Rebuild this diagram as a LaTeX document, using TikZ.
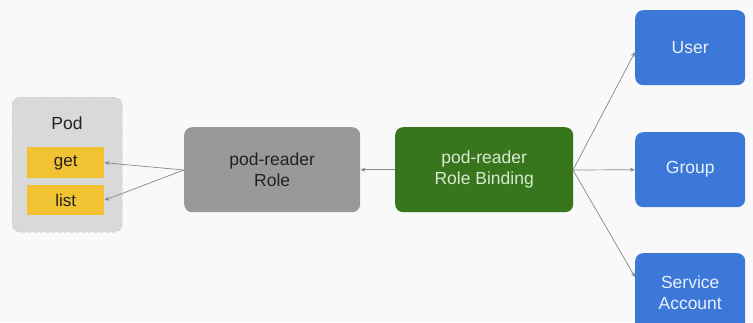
\documentclass[tikz,border=0pt]{standalone}
\usepackage{fontspec}
\setmainfont{Liberation Sans}
\usetikzlibrary{arrows.meta}
\definecolor{bg}{HTML}{F9F9F9}
\definecolor{podgray}{HTML}{D9D9D9}
\definecolor{podborder}{HTML}{BBBBBB}
\definecolor{yel}{HTML}{F1C232}
\definecolor{rolegray}{HTML}{999999}
\definecolor{bindgreen}{HTML}{38761D}
\definecolor{bindtext}{HTML}{D9EAD3}
\definecolor{bluebox}{HTML}{3C78D8}
\definecolor{bluetext}{HTML}{E8F0FC}
\definecolor{darktext}{HTML}{222222}
\definecolor{linegray}{HTML}{888888}
\begin{document}
\begin{tikzpicture}[x=1pt,y=-1pt,
  box/.style={rounded corners=8pt, inner sep=0pt, align=center, font=\fontsize{17.5}{21}\selectfont},
  verb/.style={fill=yel, inner sep=0pt, text=darktext, font=\fontsize{17}{20}\selectfont},
  conn/.style={draw=linegray, line width=0.7pt, -{Stealth[length=5pt,width=4pt]}}]
\fill[bg] (0,0) rectangle (753,322);
\useasboundingbox (0,0) rectangle (753,322);
\clip (0,0) rectangle (753,322);
% Pod container
\node[box, fill=podgray, draw=podborder, dashed, minimum width=110pt, minimum height=135pt, anchor=north west] (pod) at (12,97) {};
\node[text=darktext, font=\fontsize{17.5}{21}\selectfont] (podlbl) at (67,123) {Pod};
\node[verb, minimum width=77pt, minimum height=31pt, anchor=north west] (get) at (27,147) {get};
\node[verb, minimum width=77pt, minimum height=30pt, anchor=north west] (list) at (27,185) {list};
% Role and binding
\node[box, fill=rolegray, text=darktext, minimum width=176pt, minimum height=85pt, anchor=north west] (role) at (184,127) {pod-reader\\Role};
\node[box, fill=bindgreen, text=bindtext, minimum width=178pt, minimum height=85pt, anchor=north west] (bind) at (395,127) {pod-reader\\Role Binding};
% Subjects
\node[box, fill=bluebox, text=bluetext, minimum width=110pt, minimum height=75pt, anchor=north west] (user) at (635,10) {User};
\node[box, fill=bluebox, text=bluetext, minimum width=110pt, minimum height=75pt, anchor=north west] (group) at (635,132) {Group};
\node[box, fill=bluebox, text=bluetext, minimum width=110pt, minimum height=80pt, anchor=north west] (sa) at (635,253) {Service\\Account};
% connectors
\coordinate (rl) at (184,170);
\draw[conn] (rl) -- (get.east);
\draw[conn] (rl) -- (list.east);
\draw[conn] (bind.west) -- (role.east);
\coordinate (br) at (573,170);
\draw[conn] (br) -- (635,52);
\draw[conn] (br) -- (group.west);
\draw[conn] (br) -- (635,277);
\end{tikzpicture}
\end{document}
